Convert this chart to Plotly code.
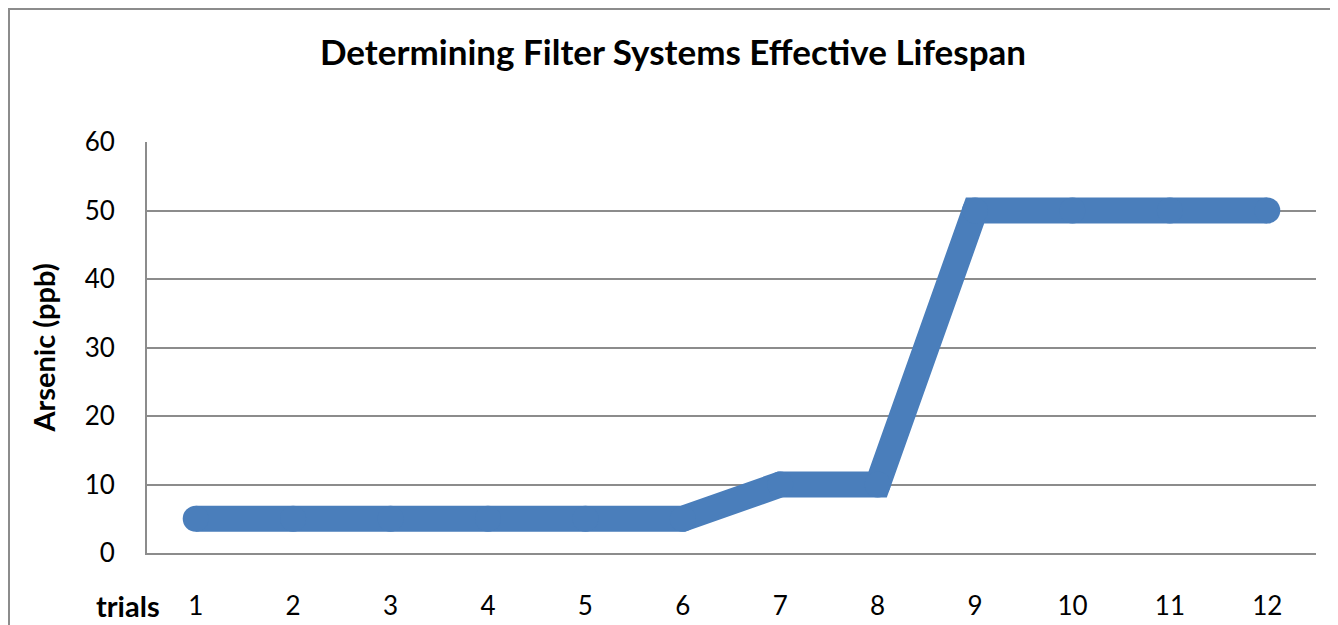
import plotly.graph_objects as go

trials = ["1", "2", "3", "4", "5", "6", "7", "8", "9", "10", "11", "12"]
arsenic_ppb = [5, 5, 5, 5, 5, 5, 10, 10, 50, 50, 50, 50]
y_ticks = [0, 10, 20, 30, 40, 50, 60]

# page body adds an 8px offset; work in window pixels and convert
OFF = 8
W, H = 1338 - OFF, 625 - OFF
plot_left, plot_right, plot_top, plot_bottom = 147, 1316, 142, 553
L = plot_left - OFF
T = plot_top - OFF
R = W - (plot_right - OFF)
B = H - (plot_bottom - OFF)
pw, ph = W - L - R, H - T - B

blue = "#4A7EBB"
grid = "#8C8C8C"
font_family = "Lato, 'Open Sans', sans-serif"

fig = go.Figure()
fig.add_trace(go.Scatter(
    x=trials, y=arsenic_ppb, mode="lines+markers",
    line=dict(color=blue, width=26),
    marker=dict(color=blue, size=26, line=dict(width=0)),
    hoverinfo="x+y", showlegend=False,
))

def px_x(x):
    return (x - plot_left) / pw

def px_y(y):
    return (plot_bottom - y) / ph

fig.update_layout(
    width=W, height=H,
    margin=dict(l=L, r=R, t=T, b=B, autoexpand=False),
    paper_bgcolor="white", plot_bgcolor="white",
    font=dict(family=font_family, color="#000000", size=26),
    title=dict(
        text="<b>Determining Filter Systems Effective Lifespan</b>",
        x=(673 - OFF) / W, xanchor="center", y=1 - (53 - OFF) / H, yanchor="middle",
        yref="container", font=dict(size=35, color="#000000"),
    ),
    xaxis=dict(
        type="category", range=[-0.5, 11.5],
        showgrid=False, showline=True, linecolor=grid, linewidth=2,
        ticks="", ticklabelstandoff=29,
        tickfont=dict(size=26), automargin=False,
    ),
    yaxis=dict(
        range=[0, 60], tickvals=y_ticks, showgrid=True, gridcolor=grid,
        gridwidth=1.5, showline=True, linecolor=grid, linewidth=2,
        zeroline=False, ticks="", ticklabelstandoff=25,
        tickfont=dict(size=26), automargin=False,
        title=dict(text="<b>Arsenic (ppb)</b>", font=dict(size=29), standoff=20),
    ),
    annotations=[dict(
        text="<b>trials</b>", xref="paper", yref="paper",
        x=px_x(128), y=px_y(605), xanchor="center", yanchor="middle",
        showarrow=False, font=dict(size=29, color="#000000"),
    )],
    shapes=[dict(
        type="rect", xref="paper", yref="paper",
        x0=px_x(9), x1=px_x(1333), y0=px_y(700), y1=px_y(9),
        line=dict(color="#8C8C8C", width=2), fillcolor="rgba(0,0,0,0)",
        layer="below",
    )],
)

fig.write_html("out.html")
